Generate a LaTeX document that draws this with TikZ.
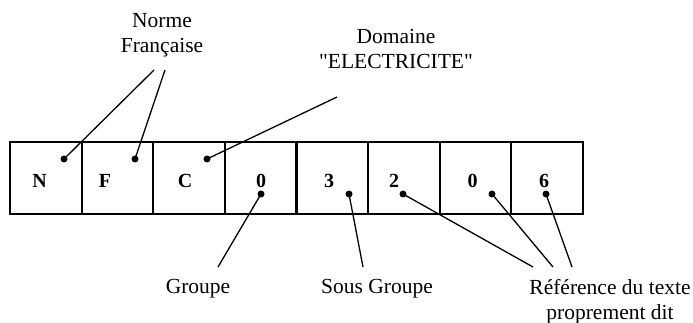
\documentclass[tikz,border=0pt]{standalone}
\usepackage{fontspec}
\setmainfont{Liberation Serif}

\begin{document}
\begin{tikzpicture}[x=1pt, y=-1pt,
    cellbox/.style={draw, line width=2.2pt, minimum width=71.6pt, minimum height=72pt, inner sep=0pt, anchor=north west},
    digit/.style={font=\fontsize{20}{24}\selectfont\bfseries, anchor=base, inner sep=0pt},
    caption/.style={font=\fontsize{21.5}{25}\selectfont, align=center, inner sep=0pt},
    dot/.style={circle, fill, inner sep=0pt, minimum size=7pt},
    lead/.style={line width=1.3pt}]
    \useasboundingbox (0,0) rectangle (693,323);

    % the eight cells of the code
    \foreach \i in {1,...,8}
        \node [cellbox] (c\i) at ({9+71.6*(\i-1)}, 141) {};
    \foreach \ch/\x [count=\i] in {N/39.5, F/105, C/185, 0/261, 3/329, 2/394, 0/472.5, 6/544}
        \node [digit] (l\i) at (\x, 188) {\ch};

    % dots
    \node [dot] (d1) at (64, 159) {};
    \node [dot] (d2) at (135, 159) {};
    \node [dot] (d3) at (207, 159) {};
    \node [dot] (d4) at (261, 194) {};
    \node [dot] (d5) at (349, 194) {};
    \node [dot] (d6) at (403, 194) {};
    \node [dot] (d7) at (492, 194) {};
    \node [dot] (d8) at (546, 194) {};

    % captions
    \node [caption, anchor=north] (norme) at (162, 12.8) {Norme\\Française};
    \node [caption, anchor=north] (domaine) at (396, 28.8) {Domaine\\\textquotedbl ELECTRICITE\textquotedbl};
    \node [caption, anchor=base] (groupe) at (198, 293) {Groupe};
    \node [caption, anchor=base] (sousgroupe) at (377, 293) {Sous Groupe};
    \node [caption, anchor=north] (reference) at (610, 279.3) {Référence du texte\\proprement dit};

    % free ends of the leaders
    \coordinate (nf1) at (154, 70);
    \coordinate (nf2) at (165, 70);
    \coordinate (dom) at (337, 97);
    \coordinate (grp) at (218, 267);
    \coordinate (sgr) at (363, 267);
    \coordinate (ref1) at (533, 267);
    \coordinate (ref2) at (553, 267);
    \coordinate (ref3) at (572, 267);

    \draw [lead] (nf1) -- (d1.center);
    \draw [lead] (nf2) -- (d2.center);
    \draw [lead] (dom) -- (d3.center);
    \draw [lead] (d4.center) -- (grp);
    \draw [lead] (d5.center) -- (sgr);
    \draw [lead] (d6.center) -- (ref1);
    \draw [lead] (d7.center) -- (ref2);
    \draw [lead] (d8.center) -- (ref3);
\end{tikzpicture}
\end{document}
